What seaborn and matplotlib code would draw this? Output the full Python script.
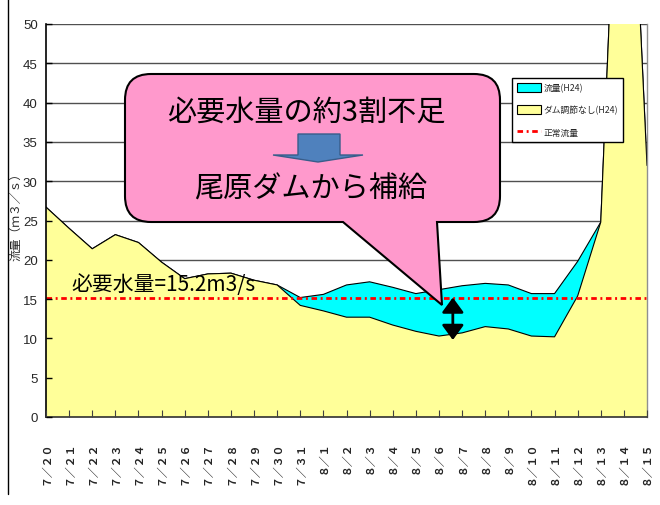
"""
Daily river flow vs. flow without dam regulation (H24), with the required-flow line
and a callout about supply from the Obara dam.
"""

import pandas as pd
import matplotlib.pyplot as plt
import matplotlib.transforms as mtransforms
import seaborn as sns
from matplotlib.path import Path
from matplotlib.patches import PathPatch, Patch, Polygon
from matplotlib.lines import Line2D

# Data
dates = ['7/20', '7/21', '7/22', '7/23', '7/24', '7/25', '7/26', '7/27', '7/28',
         '7/29', '7/30', '7/31', '8/1', '8/2', '8/3', '8/4', '8/5', '8/6', '8/7',
         '8/8', '8/9', '8/10', '8/11', '8/12', '8/13', '8/14', '8/15']
no_dam = [26.7, 24.0, 21.4, 23.2, 22.2, 19.7, 17.6, 18.2, 18.3, 17.4, 16.8, 14.2,
          13.5, 12.7, 12.7, 11.7, 10.9, 10.3, 10.7, 11.5, 11.2, 10.3, 10.2, 15.4,
          24.8, 95.0, 32.0]
flow = [26.7, 24.0, 21.4, 23.2, 22.2, 19.7, 17.6, 18.2, 18.3, 17.4, 16.8, 15.2,
        15.6, 16.8, 17.2, 16.5, 15.7, 16.2, 16.7, 17.0, 16.8, 15.7, 15.7, 19.8,
        24.8, 95.0, 32.0]
required = 15.2
shortage_day = '8/7'
shortage_low = 9.8
legend_labels = ['流量(H24)', 'ダム調節なし(H24)', '正常流量']
y_label = '流量(m3/s)'
required_text = '必要水量=15.2m3/s'
callout_line1 = '必要水量の約3割不足'
callout_line2 = '尾原ダムから補給'

CYAN = '#00FFFF'
YELLOW = '#FFFF99'
PINK = '#FF99CC'
RED_DASH = (0, (2.0, 1.3, 0.7, 1.3))

sns.set_theme(style='white')
plt.rcParams['font.family'] = ['Noto Sans CJK JP', 'DejaVu Sans']

wide = str.maketrans('0123456789/()ms', '０１２３４５６７８９／（）ｍｓ')

df = pd.DataFrame({'day': range(len(dates)), 'flow': flow, 'no_dam': no_dam})

fig = plt.figure(figsize=(6.6, 5.06), dpi=100, facecolor='white')
ax = fig.add_axes([46 / 660, 88 / 506, 601 / 660, 393 / 506])

# horizontal grid under the areas
yticks = list(range(0, 51, 5))
for v in yticks[1:]:
    ax.axhline(v, color='#505050', lw=1, zorder=1)

# flow area (behind) and no-dam area (front)
ax.fill_between(df['day'], 0, df['flow'], color=CYAN, lw=0, zorder=2)
sns.lineplot(data=df, x='day', y='flow', color='black', lw=0.8, ax=ax, zorder=2.1)
ax.fill_between(df['day'], 0, df['no_dam'], color=YELLOW, lw=0, zorder=3)
sns.lineplot(data=df, x='day', y='no_dam', color='black', lw=0.8, ax=ax, zorder=3.1)

ax.axhline(required, color='#FF0000', lw=2, ls=RED_DASH, dash_capstyle='butt', zorder=4)

# shortage arrow
xd = dates.index(shortage_day) - 0.4
ax.annotate('', xy=(xd, shortage_low), xytext=(xd, required),
            arrowprops=dict(arrowstyle='<|-|>,head_length=0.75,head_width=0.55',
                            color='black', lw=2, shrinkA=0, shrinkB=0), zorder=7)

ax.set_xlim(0, len(dates) - 1)
ax.set_ylim(0, 50)
ax.set_yticks(yticks)
ax.set_xticks(df['day'])
ax.set_xticklabels([d.translate(wide) for d in dates], rotation=90, fontsize=7.8,
                   fontweight='bold')
ax.set_xlabel('')
ax.set_ylabel(y_label.translate(wide), fontsize=8.5)
ax.yaxis.set_label_coords(-0.04, 0.52)
for lab in ax.get_yticklabels():
    lab.set_fontfamily(['Liberation Sans', 'DejaVu Sans'])
    lab.set_fontsize(9.5)

ax.tick_params(axis='y', direction='in', length=4, width=1, color='black', pad=6, left=True)
ax.tick_params(axis='x', direction='in', length=5, width=0.8, color='#404040', pad=17, bottom=True)
ax.xaxis.set_zorder(5)
ax.yaxis.set_zorder(5)

ax.spines['top'].set_visible(False)
ax.spines['left'].set_color('black')
ax.spines['left'].set_linewidth(1.2)
ax.spines['bottom'].set_color('#303030')
ax.spines['bottom'].set_linewidth(1.2)
ax.spines['right'].set_color('#909090')
ax.spines['right'].set_linewidth(1)
for s in ax.spines.values():
    s.set_zorder(5)

handles = [Patch(facecolor=CYAN, edgecolor='black', lw=0.8),
           Patch(facecolor=YELLOW, edgecolor='black', lw=0.8),
           Line2D([], [], color='#FF0000', lw=2, ls=RED_DASH)]
leg = ax.legend(handles, legend_labels, loc='upper left', bbox_to_anchor=(0.775, 0.862),
                frameon=True, fancybox=False, edgecolor='black', framealpha=1,
                fontsize=6.3, handlelength=2.7, handleheight=1.1, handletextpad=0.3,
                labelspacing=1.45, borderpad=0.6, borderaxespad=0)
leg.get_frame().set_linewidth(1)
leg.set_zorder(6)

# callout drawn in image pixel coordinates (origin top-left)
px = mtransforms.Affine2D().scale(1 / 660, -1 / 506).translate(0, 1) + fig.transFigure
L, T, R, B, r = 125, 75, 500, 223, 26
bx1, bx2, tip = 343, 437, (442, 306)
verts = [(L + r, T), (R - r, T), (R, T), (R, T + r), (R, B - r), (R, B), (R - r, B),
         (bx2, B), tip, (bx1, B), (L + r, B), (L, B), (L, B - r), (L, T + r), (L, T),
         (L + r, T), (L + r, T)]
codes = [Path.MOVETO, Path.LINETO, Path.CURVE3, Path.CURVE3, Path.LINETO, Path.CURVE3,
         Path.CURVE3, Path.LINETO, Path.LINETO, Path.LINETO, Path.LINETO, Path.CURVE3,
         Path.CURVE3, Path.LINETO, Path.CURVE3, Path.CURVE3, Path.CLOSEPOLY]
fig.add_artist(PathPatch(Path(verts, codes), facecolor=PINK, edgecolor='black',
                         lw=1.5, transform=px, zorder=5))
fig.add_artist(Polygon([(298, 135), (340, 135), (340, 156), (363, 156), (318, 163),
                        (273, 156), (298, 156)], closed=True, facecolor='#4F81BD',
                       edgecolor='#385D8A', lw=1, transform=px, zorder=6))
fig.text(306, 113, callout_line1, transform=px, ha='center', va='center',
         fontsize=21, color='black', zorder=7)
fig.text(311, 190, callout_line2, transform=px, ha='center', va='center',
         fontsize=21, color='black', zorder=7)
fig.text(71, 291, required_text, transform=px, ha='left', va='baseline',
         fontsize=15, color='black', zorder=7)

# left border of the chart area
fig.add_artist(Line2D([8, 8], [0, 495], transform=px, color='black', lw=1))

fig.savefig('out.png', dpi=100)
